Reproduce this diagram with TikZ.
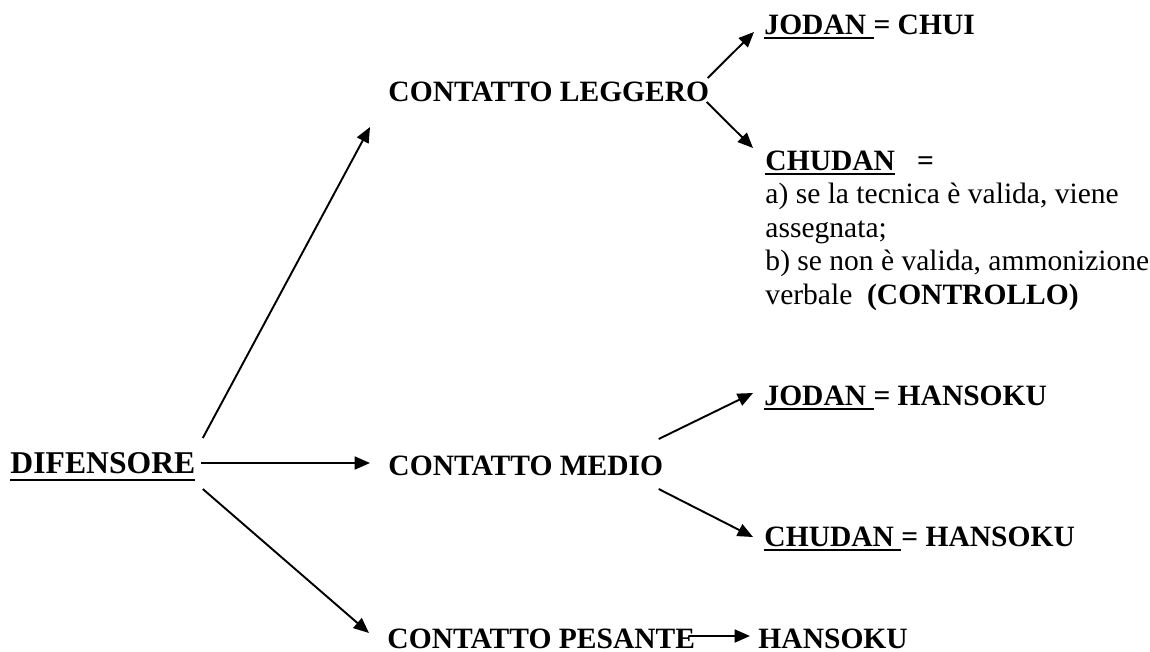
\documentclass[tikz,border=0pt,12pt]{standalone}
\usepackage{fontspec}
\setmainfont{Liberation Serif}
\usetikzlibrary{arrows.meta}

\newsavebox{\sottobox}
\newcommand{\sottolinea}[2][2.1pt]{\sbox{\sottobox}{#2}\rlap{\rule[-#1]{\wd\sottobox}{0.9pt}}\usebox{\sottobox}}

\begin{document}
\begin{tikzpicture}[x=0.41667pt,y=0.41667pt,
  testo/.style={inner sep=0pt,anchor=base west,font=\fontsize{12.3}{14}\selectfont\bfseries},
  freccia/.style={-{Triangle[length=6.4pt,width=5.4pt]},line width=0.8pt}]
\useasboundingbox (0,0) rectangle (1150,-651);

\node[testo,font=\fontsize{13.2}{15}\selectfont\bfseries] (dif) at (10,-473) {\sottolinea[3.2pt]{DIFENSORE}};

\node[testo] (leg) at (388,-101) {CONTATTO LEGGERO};
\node[testo] (med) at (388,-475) {CONTATTO MEDIO};
\node[testo] (pes) at (387,-648) {CONTATTO PESANTE};

\node[testo] (jod1) at (764,-34) {\sottolinea{JODAN }= CHUI};
\node[testo,align=left,anchor=north west] (chu1) at (765,-150) {\bfseries\sottolinea{CHUDAN}~~ =\\
  \mdseries a) se la tecnica è valida, viene\\
  \mdseries assegnata;\\
  \mdseries b) se non è valida, ammonizione\\
  \mdseries verbale~ \textbf{(CONTROLLO)}};

\node[testo] (jod2) at (764,-405) {\sottolinea{JODAN }= HANSOKU};
\node[testo] (chu2) at (764,-546) {\sottolinea{CHUDAN }= HANSOKU};
\node[testo] (han) at (758,-648) {HANSOKU};

% frecce
\draw[freccia] ([shift={(7,35)}]dif.base east) -- ([shift={(-18,-26)}]leg.base west);
\draw[freccia] ([shift={(5,10)}]dif.base east) -- ([shift={(-18,12)}]med.base west);
\draw[freccia] ([shift={(7,-16)}]dif.base east) -- ([shift={(-18,15)}]pes.base west);

\draw[freccia] ([shift={(-2,23)}]leg.base east) -- ([shift={(-10,2)}]jod1.base west);
\draw[freccia] ([shift={(-3,-1)}]leg.base east) -- ([shift={(-12,2)}]chu1.north west);

\draw[freccia] ([shift={(-5,36)}]med.base east) -- ([shift={(-11,12)}]jod2.base west);
\draw[freccia] ([shift={(-5,-14)}]med.base east) -- ([shift={(-11,9)}]chu2.base west);

\draw[freccia] ([shift={(-7,12)}]pes.base east) -- ([shift={(-8,12)}]han.base west);
\end{tikzpicture}
\end{document}
